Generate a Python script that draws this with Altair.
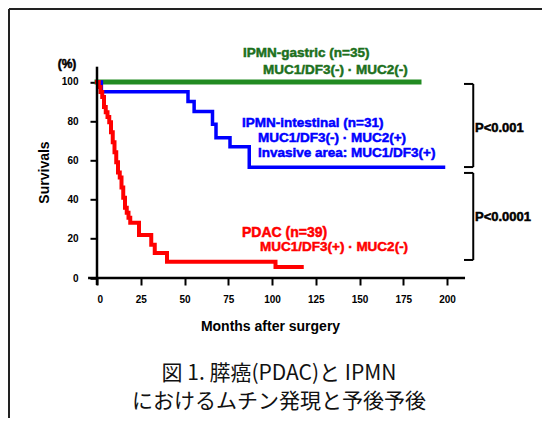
import altair as alt
import pandas as pd

# ---- data ----
x_ticks = [0, 25, 50, 75, 100, 125, 150, 175, 200]
y_ticks = [0, 20, 40, 60, 80, 100]

gastric_t = [0, 184]
gastric_s = [100, 100]

intest_t = [0, 2.5, 52, 55.5, 66, 68, 76, 87, 198]
intest_s = [100, 95, 90, 85, 78.5, 71.5, 67, 56.5, 56.5]

pdac_t = [0, 1, 2, 3, 4, 5, 6, 7, 8, 9, 10, 11, 12, 13, 14, 15, 16, 17, 18, 19,
          24, 31, 33, 40, 102, 117]
pdac_s = [100, 97.4, 94.9, 92.3, 87.2, 84.6, 82.1, 79.5, 74.4, 69.2, 64.1, 59.0,
          53.8, 51.3, 46.2, 41.0, 35.9, 33.3, 30.8, 28.2, 22, 17, 12.7, 8.3, 5.6, 5.6]

GREEN = "#228b22"
GREEN_T = "#1c701c"
BLUE = "#0000ff"
RED = "#ff0000"
FONT = "Liberation Sans"
CJK = "Noto Sans CJK JP"

xs = alt.Scale(domain=[0, 210], nice=False, zero=False)
ys = alt.Scale(domain=[0, 108], nice=False, zero=False)

one = pd.DataFrame({"k": [0]})


def curve(t, s, color, width):
    df = pd.DataFrame({"t": t, "s": s})
    return alt.Chart(df).mark_line(
        interpolate="step-after", color=color, strokeWidth=width, strokeCap="square"
    ).encode(
        x=alt.X("t:Q", scale=xs,
                axis=alt.Axis(values=x_ticks, format="d", domain=False, grid=False,
                              tickSize=7, tickWidth=2, tickColor="black",
                              labelFont=FONT, labelFontWeight="bold", labelFontSize=10,
                              labelColor="black", labelPadding=9,
                              title="Months after surgery", titleFont=FONT,
                              titleFontSize=14, titleFontWeight="bold", titleColor="black",
                              titleX=173, titleY=48, titleAlign="center",
                              titleBaseline="middle")),
        y=alt.Y("s:Q", scale=ys,
                axis=alt.Axis(values=y_ticks, format="d", domain=False, grid=False,
                              tickSize=7, tickWidth=2, tickColor="black",
                              labelFont=FONT, labelFontWeight="bold", labelFontSize=10,
                              labelColor="black", labelPadding=12,
                              title="Survivals", titleFont=FONT, titleFontSize=14,
                              titleFontWeight="bold", titleColor="black",
                              titleAngle=270, titleX=-53, titleY=105.7,
                              titleAlign="center", titleBaseline="middle")),
    )


def drule(x, y, x2=None, y2=None, width=2.5, color="black"):
    enc = {"x": alt.datum(x), "y": alt.datum(y)}
    if x2 is not None:
        enc["x2"] = alt.datum(x2)
    if y2 is not None:
        enc["y2"] = alt.datum(y2)
    return alt.Chart(one).mark_rule(color=color, strokeWidth=width).encode(**enc)


def label(text, x, y, color, size=13.5, align="left", font=FONT, weight="bold",
          stroke=True):
    kw = dict(text=text, align=align, baseline="middle", font=font,
              fontSize=size, fontWeight=weight, color=color)
    if stroke:
        kw.update(stroke=color, strokeWidth=0.5)
    return alt.Chart(one).mark_text(**kw).encode(x=alt.value(x), y=alt.value(y))


layers = [
    curve(gastric_t, gastric_s, GREEN, 5),
    curve(intest_t, intest_s, BLUE, 3.5),
    curve(pdac_t, pdac_s, RED, 4),
    # axis lines
    drule(0, -3.6, y2=107.8),
    drule(-5.1, 0, x2=210.3),
    # significance brackets
    drule(215, 99, y2=56.6, width=2),
    drule(209.7, 99, x2=215, width=2),
    drule(209.7, 56.6, x2=215, width=2),
    drule(215, 53.6, y2=9.2, width=2),
    drule(209.7, 53.6, x2=215, width=2),
    drule(209.7, 9.2, x2=215, width=2),
    # labels
    label("(%)", -30, -2.3, "black", size=12, align="center"),
    label("IPMN-gastric (n=35)", 146, -13.3, GREEN_T),
    label("MUC1/DF3(-) · MUC2(-)", 166, 3.7, GREEN_T),
    label("IPMN-intestinal (n=31)", 145, 56.7, BLUE),
    label("MUC1/DF3(-) · MUC2(+)", 161, 71.7, BLUE),
    label("Invasive area: MUC1/DF3(+)", 161, 86.7, BLUE),
    label("PDAC (n=39)", 145, 166.7, RED, size=14),
    label("MUC1/DF3(+) · MUC2(-)", 163, 180.7, RED),
    label("P<0.001", 378, 61.7, "black", size=13),
    label("P<0.0001", 378, 150.7, "black", size=13),
    label("図 1. 膵癌(PDAC)と IPMN", 182, 307.5, "#111111", size=21, align="center",
          font=CJK, weight="normal", stroke=False),
    label("におけるムチン発現と予後予後", 182, 336, "#111111", size=21,
          align="center", font=CJK, weight="normal", stroke=False),
    # frame
    alt.Chart(one).mark_rule(color="#222222", strokeWidth=2).encode(
        x=alt.value(-88), y=alt.value(-57.3), y2=alt.value(360)),
    alt.Chart(one).mark_rule(color="#222222", strokeWidth=2).encode(
        x=alt.value(-88), x2=alt.value(460), y=alt.value(-57.3)),
]

chart = alt.layer(*layers).properties(
    width=367.5,
    height=211.7,
    autosize=alt.AutoSizeParams(type="none"),
    padding={"left": 89, "top": 58.3, "right": 77.5, "bottom": 140},
    background="white",
).configure_view(stroke=None)

chart.save("out.html", embed_options={"renderer": "svg", "actions": False})
